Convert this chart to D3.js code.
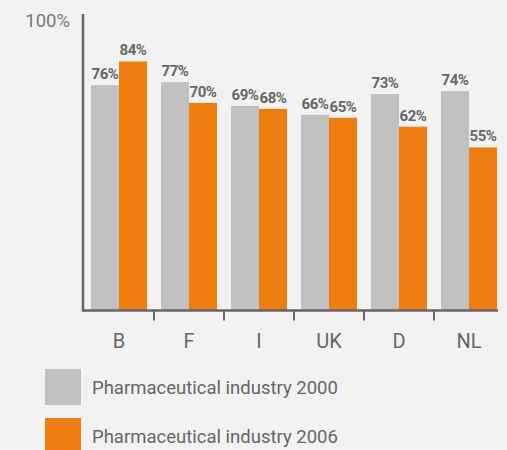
<!DOCTYPE html>
<html><head><meta charset="utf-8">
<script src="https://cdn.jsdelivr.net/npm/d3@7"></script>
<style>html,body{margin:0;padding:0;background:#f2f2f2;}svg{display:block;}</style>
</head><body>
<script>
const categories = ["B","F","I","UK","D","NL"];
const values2000 = [76,77,69,66,73,74];
const values2006 = [84,70,68,65,62,55];
const seriesNames = ["Pharmaceutical industry 2000","Pharmaceutical industry 2006"];
const seriesColors = ["#c0c0c0","#ee7d11"];
const yTickLabel = "100%";

const W=507,H=450;
const svg=d3.select("body").append("svg").attr("width",W).attr("height",H);
svg.append("rect").attr("width",W).attr("height",H).attr("fill","#f2f2f2");

const x=d3.scaleBand().domain(categories).range([84,504]).paddingInner(0).paddingOuter(0);
const y=d3.scaleLinear().domain([0,100]).range([310.5,14]);
const inner=d3.scaleBand().domain([0,1]).range([7,63]);

const data=categories.map((c,i)=>({c,v:[values2000[i],values2006[i]]}));
const g=svg.append("g");
data.forEach(d=>{
  d.v.forEach((v,s)=>{
    g.append("rect").attr("x",x(d.c)+inner(s)).attr("width",inner.bandwidth())
      .attr("y",y(v)).attr("height",y(0)-y(v)).attr("fill",seriesColors[s]);
    g.append("text").attr("x",x(d.c)+inner(s)+inner.bandwidth()/2).attr("y",y(v)-6)
      .attr("text-anchor","middle").attr("font-family","Roboto").attr("font-weight","bold")
      .attr("font-size",15).attr("letter-spacing",-0.5).attr("fill","#666").text(v+"%");
  });
});

// axes
const ax=svg.append("g").attr("stroke","#666").attr("stroke-width",2.5);
ax.append("line").attr("x1",83).attr("x2",83).attr("y1",y(100)).attr("y2",y(0)+1);
ax.append("line").attr("x1",82).attr("x2",x.range()[1]-6).attr("y1",y(0)).attr("y2",y(0));
categories.slice(1).forEach(c=>{
  ax.append("line").attr("x1",x(c)).attr("x2",x(c)).attr("y1",y(0)).attr("y2",y(0)+10).attr("stroke-width",2);
});
categories.forEach(c=>{
  svg.append("text").attr("x",x(c)+x.bandwidth()/2).attr("y",348).attr("text-anchor","middle")
    .attr("font-family","Roboto").attr("font-size",20).attr("fill","#666").text(c);
});
svg.append("text").attr("x",70).attr("y",27).attr("text-anchor","end")
  .attr("font-family","Roboto").attr("font-size",18.5).attr("fill","#777").text(yTickLabel);

// legend
seriesNames.forEach((n,i)=>{
  const ly=369+i*49;
  svg.append("rect").attr("x",45).attr("y",ly).attr("width",36).attr("height",36).attr("fill",seriesColors[i]);
  svg.append("text").attr("x",92).attr("y",ly+25).attr("font-family","Roboto").attr("font-size",18.5)
    .attr("fill","#666").text(n);
});
</script>
</body></html>
